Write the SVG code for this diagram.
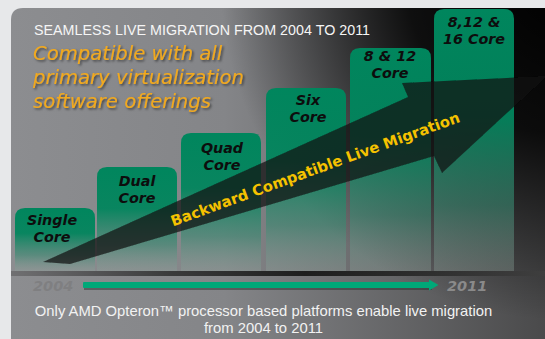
<svg xmlns="http://www.w3.org/2000/svg" width="545" height="339" viewBox="0 0 545 339">
<style>
.bar{fill:url(#barFill)}
.lbl{font-family:"DejaVu Sans",Verdana,sans-serif;font-weight:bold;font-style:oblique;font-size:14.3px;fill:#0d0d0d;text-anchor:middle}
.yel{font-family:"DejaVu Sans",Verdana,sans-serif;font-style:oblique;font-size:19.6px;fill:#f2a91e}
.title{font-family:"Liberation Sans",Arial,sans-serif;font-size:14px;fill:#f5f5f5}
.foot{font-family:"Liberation Sans",Arial,sans-serif;font-size:14.8px;fill:#f2f2f2;text-anchor:middle}
.year{font-family:"DejaVu Sans",Verdana,sans-serif;font-weight:bold;font-style:oblique;font-size:14.5px}
</style>
<defs>
<linearGradient id="bgBase" gradientUnits="userSpaceOnUse" x1="11" y1="0" x2="545" y2="0">
<stop offset="0" stop-color="#8c8d90"/>
<stop offset="0.4" stop-color="#848588"/>
<stop offset="1" stop-color="#4a4a4b"/>
</linearGradient>
<radialGradient id="bgDark" gradientUnits="userSpaceOnUse" cx="560" cy="-20" r="340">
<stop offset="0" stop-color="#000" stop-opacity="1"/>
<stop offset="0.45" stop-color="#000" stop-opacity="0.85"/>
<stop offset="1" stop-color="#000" stop-opacity="0"/>
</radialGradient>
<linearGradient id="barFill" x1="0" y1="0" x2="0" y2="1">
<stop offset="0" stop-color="#00865d"/>
<stop offset="0.4" stop-color="#02855d" stop-opacity="0.95"/>
<stop offset="0.75" stop-color="#3a8a72" stop-opacity="0.6"/>
<stop offset="1" stop-color="#8fa39c" stop-opacity="0.35"/>
</linearGradient>
<linearGradient id="band" x1="0" y1="0" x2="1" y2="0">
<stop offset="0" stop-color="#707072"/>
<stop offset="0.3" stop-color="#3a3a3b"/>
<stop offset="0.55" stop-color="#1e1e1e"/>
<stop offset="1" stop-color="#3e3e3e"/>
</linearGradient>
<filter id="shadow" x="-10%" y="-30%" width="120%" height="160%">
<feDropShadow dx="1.5" dy="1.5" stdDeviation="0.8" flood-color="#000" flood-opacity="0.55"/>
</filter>
<filter id="soft" x="-5%" y="-5%" width="110%" height="110%"><feGaussianBlur stdDeviation="0.6"/></filter>
</defs>

<rect x="0" y="0" width="545" height="339" fill="#e7e8ea"/>
<g id="panel">
<path d="M11,339 V20 Q11,8 23,8 H545 V339 Z" fill="url(#bgBase)"/>
<path d="M11,339 V20 Q11,8 23,8 H545 V339 Z" fill="url(#bgDark)"/>
</g>

<text class="title" x="34" y="35" textLength="336" lengthAdjust="spacingAndGlyphs">SEAMLESS LIVE MIGRATION FROM 2004 TO 2011</text>
<g filter="url(#shadow)">
<text class="yel" x="33" y="60">Compatible with all</text>
<text class="yel" x="33" y="84">primary virtualization</text>
<text class="yel" x="33" y="108">software offerings</text>
</g>

<g id="single-core"><path class="bar" d="M15,271 V218 Q15,208 25,208 H85 Q95,208 95,218 V271 Z"/>
<text class="lbl" x="52" y="225">Single</text><text class="lbl" x="52" y="242">Core</text></g>
<g id="dual-core"><path class="bar" d="M97,271 V177 Q97,167 107,167 H167 Q177,167 177,177 V271 Z"/>
<text class="lbl" x="137" y="186">Dual</text><text class="lbl" x="137" y="203">Core</text></g>
<g id="quad-core"><path class="bar" d="M181,271 V143 Q181,133 191,133 H251 Q261,133 261,143 V271 Z"/>
<text class="lbl" x="222" y="153">Quad</text><text class="lbl" x="222" y="170">Core</text></g>
<g id="six-core"><path class="bar" d="M266,271 V98 Q266,88 276,88 H336 Q346,88 346,98 V271 Z"/>
<text class="lbl" x="308" y="105">Six</text><text class="lbl" x="308" y="122">Core</text></g>
<g id="eight-twelve-core"><path class="bar" d="M350,271 V58 Q350,48 360,48 H421 Q431,48 431,58 V271 Z"/>
<text class="lbl" x="390" y="61">8 &amp; 12</text><text class="lbl" x="390" y="78">Core</text></g>
<g id="eight-twelve-sixteen-core"><path class="bar" d="M434,271 V19 Q434,9 444,9 H504 Q514,9 514,19 V271 Z"/>
<text class="lbl" x="474" y="27">8,12 &amp;</text><text class="lbl" x="474" y="44">16 Core</text></g>

<g id="connectors">
<path d="M43,262 L408,97 L402,83 L547,76 L442,173 L434,156 L70,264 Z" fill="#101010" fill-opacity="0.72" filter="url(#soft)"/>
<text transform="translate(317,174) rotate(-20)" text-anchor="middle" font-family="DejaVu Sans, Verdana, sans-serif" font-weight="bold" font-size="14.8" fill="#f5c200">Backward Compatible Live Migration</text>
<rect x="11" y="271" width="534" height="5" fill="url(#band)"/>
<rect x="84" y="284" width="348" height="6" fill="#2a2a2a" opacity="0.45" filter="url(#soft)"/>
<rect x="83" y="282" width="348" height="6" rx="1" fill="#00a878"/>
<polygon points="429,279.5 438.5,285 429,290.5" fill="#00a878"/>
</g>

<text class="year" x="33" y="291" fill="#7f7f81">2004</text>
<text class="year" x="447" y="291" fill="#8a8a8a">2011</text>

<text class="foot" x="263.5" y="316">Only AMD Opteron™ processor based platforms enable live migration</text>
<text class="foot" x="263.5" y="333">from 2004 to 2011</text>
</svg>
